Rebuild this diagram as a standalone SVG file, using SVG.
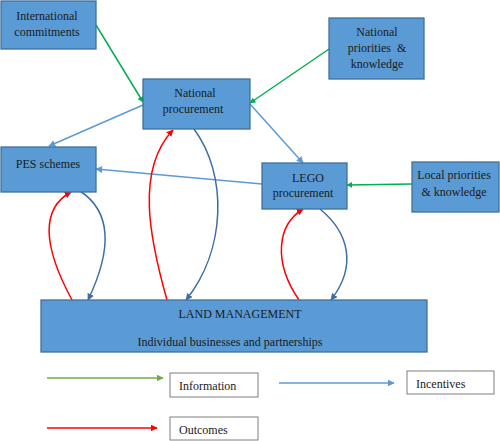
<svg xmlns="http://www.w3.org/2000/svg" width="500" height="441" viewBox="0 0 500 441">
<style>
.box{fill:#5b9bd5;stroke:#41719c;stroke-width:1.3}
.lbox{fill:#ffffff;stroke:#7f7f7f;stroke-width:1}
.t{font-family:"Liberation Serif",serif;font-size:12px;fill:#1a1a1a}
.c{text-anchor:middle}
.g{stroke:#00b050;stroke-width:1.5;fill:none}
.lg{stroke:#70ad47;stroke-width:1.5;fill:none}
.b{stroke:#5b9bd5;stroke-width:1.5;fill:none}
.d{stroke:#3c6ea3;stroke-width:1.5;fill:none}
.r{stroke:#ff0000;stroke-width:1.5;fill:none}
</style>
<defs>
<marker id="ag" viewBox="0 0 10 10" refX="9" refY="5" markerWidth="6" markerHeight="6" orient="auto" markerUnits="userSpaceOnUse"><path d="M0,0L10,5L0,10z" fill="#00b050"/></marker>
<marker id="alg" viewBox="0 0 10 10" refX="9" refY="5" markerWidth="7" markerHeight="7" orient="auto" markerUnits="userSpaceOnUse"><path d="M0,0L10,5L0,10z" fill="#70ad47"/></marker>
<marker id="ab" viewBox="0 0 10 10" refX="9" refY="5" markerWidth="7" markerHeight="7" orient="auto" markerUnits="userSpaceOnUse"><path d="M0,0L10,5L0,10z" fill="#5b9bd5"/></marker>
<marker id="ad" viewBox="0 0 10 10" refX="9" refY="5" markerWidth="7" markerHeight="7" orient="auto" markerUnits="userSpaceOnUse"><path d="M0,0L10,5L0,10z" fill="#3c6ea3"/></marker>
<marker id="ar" viewBox="0 0 10 10" refX="9" refY="5" markerWidth="7" markerHeight="7" orient="auto" markerUnits="userSpaceOnUse"><path d="M0,0L10,5L0,10z" fill="#ff0000"/></marker>
</defs>
<rect width="500" height="441" fill="#ffffff"/>

<g id="connectors">
<path class="g" d="M96,25 L143,102" marker-end="url(#ag)"/>
<path class="g" d="M329,49 L250,103" marker-end="url(#ag)"/>
<path class="g" d="M412,184 L347,185" marker-end="url(#ag)"/>
<path class="b" d="M143,105 L49,146" marker-end="url(#ab)"/>
<path class="b" d="M250,104 L303,163" marker-end="url(#ab)"/>
<path class="b" d="M262,184 L96,169" marker-end="url(#ab)"/>
<path class="r" d="M72,300 C45,250 38,210 71,192" marker-end="url(#ar)"/>
<path class="d" d="M80,191 C112,212 112,250 88,300" marker-end="url(#ad)"/>
<path class="r" d="M167,300 C150,240 135,170 173,130" marker-end="url(#ar)"/>
<path class="d" d="M194,129 C228,175 226,250 186,300" marker-end="url(#ad)"/>
<path class="r" d="M299,300 C273,262 277,225 303,209" marker-end="url(#ar)"/>
<path class="d" d="M320,209 C348,232 358,265 331,300" marker-end="url(#ad)"/>
<path class="lg" d="M47,378 L163,378" marker-end="url(#alg)"/>
<path class="r" d="M47,428 L157,428" marker-end="url(#ar)"/>
<path class="b" d="M279,383 L394,383" marker-end="url(#ab)"/>
</g>

<g id="international">
<rect class="box" x="1" y="1" width="95" height="48"/>
<text class="t c" x="47" y="20">International</text>
<text class="t c" x="47" y="36">commitments</text>
</g>
<g id="national-procurement">
<rect class="box" x="143" y="79" width="107" height="50"/>
<text class="t c" x="195" y="97">National</text>
<text class="t c" x="193" y="113">procurement</text>
</g>
<g id="national-priorities">
<rect class="box" x="329" y="18" width="95" height="61"/>
<text class="t c" x="377" y="36">National</text>
<text class="t c" x="377" y="52">priorities&#160; &amp;</text>
<text class="t c" x="377" y="68">knowledge</text>
</g>
<g id="pes">
<rect class="box" x="1" y="147" width="95" height="45"/>
<text class="t c" x="48" y="168">PES schemes</text>
</g>
<g id="lego">
<rect class="box" x="262" y="163" width="85" height="46"/>
<text class="t c" x="308" y="182">LEGO</text>
<text class="t c" x="303" y="197">procurement</text>
</g>
<g id="local-priorities">
<rect class="box" x="412" y="162" width="87" height="50"/>
<text class="t c" x="454" y="179">Local priorities</text>
<text class="t c" x="454" y="196">&amp; knowledge</text>
</g>
<g id="land-management">
<rect class="box" x="41" y="300" width="386" height="52"/>
<text class="t c" x="240" y="318">LAND MANAGEMENT</text>
<text class="t c" x="230" y="346">Individual businesses and partnerships</text>
</g>
<g id="legend-information">
<rect class="lbox" x="170" y="373" width="88" height="24"/>
<text class="t" x="179" y="390">Information</text>
</g>
<g id="legend-outcomes">
<rect class="lbox" x="170" y="417" width="88" height="23"/>
<text class="t" x="179" y="434">Outcomes</text>
</g>
<g id="legend-incentives">
<rect class="lbox" x="407" y="371" width="87" height="23"/>
<text class="t" x="416" y="388">Incentives</text>
</g>
</svg>
